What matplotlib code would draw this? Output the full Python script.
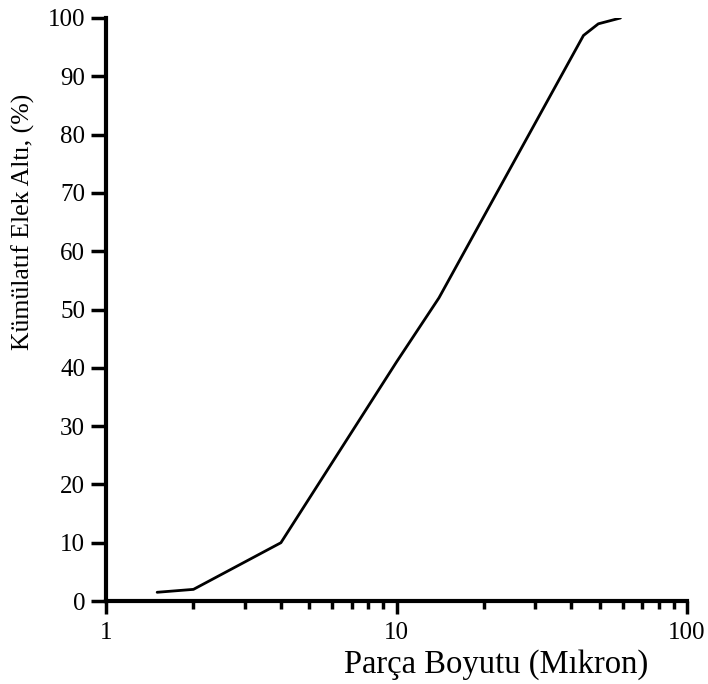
import matplotlib
matplotlib.use("Agg")
import matplotlib.pyplot as plt
from matplotlib.ticker import LogLocator, NullFormatter

plt.rcParams['font.family'] = ['Liberation Serif', 'DejaVu Serif']

size_um = [1.5, 2.0, 4.0, 10.0, 14.0, 44.0, 49.5, 59.0]
cum_pct = [1.5, 2.0, 10.0, 41.0, 52.0, 97.0, 99.0, 100.0]
y_ticks = [0, 10, 20, 30, 40, 50, 60, 70, 80, 90, 100]
x_ticks = [1, 10, 100]
x_tick_labels = ['1', '10', '100']

fig = plt.figure(figsize=(7.08, 6.84), dpi=100)
ax = fig.add_axes([0.1497, 0.1213, 0.8207, 0.8524])
ax.plot(size_um, cum_pct, color='black', lw=2.0, solid_capstyle='round')

ax.set_xscale('log')
ax.set_xlim(1, 100)
ax.set_ylim(0, 100)
ax.set_xticks(x_ticks)
ax.set_xticklabels(x_tick_labels)
ax.xaxis.set_minor_locator(LogLocator(base=10, subs=range(2, 10)))
ax.xaxis.set_minor_formatter(NullFormatter())
ax.set_yticks(y_ticks)
ax.set_yticklabels([str(v) for v in y_ticks])

for s in ['top', 'right']:
    ax.spines[s].set_visible(False)
for s in ['left', 'bottom']:
    ax.spines[s].set_linewidth(3.0)

ax.tick_params(axis='y', which='major', direction='out', length=11, width=2.5,
               labelsize=18, pad=4)
ax.tick_params(axis='x', which='major', direction='out', length=9, width=2.5,
               labelsize=18, pad=6)
ax.tick_params(axis='x', which='minor', direction='out', length=6, width=2.5)

ax.set_xlabel('Parça Boyutu (Mıkron)', fontsize=23.5)
ax.xaxis.set_label_coords(0.672, -0.083)
ax.set_ylabel('Kümülatıf Elek Altı, (%)', fontsize=18.5)
ax.yaxis.set_label_coords(-0.122, 0.65)

fig.savefig('out.png', dpi=100)
